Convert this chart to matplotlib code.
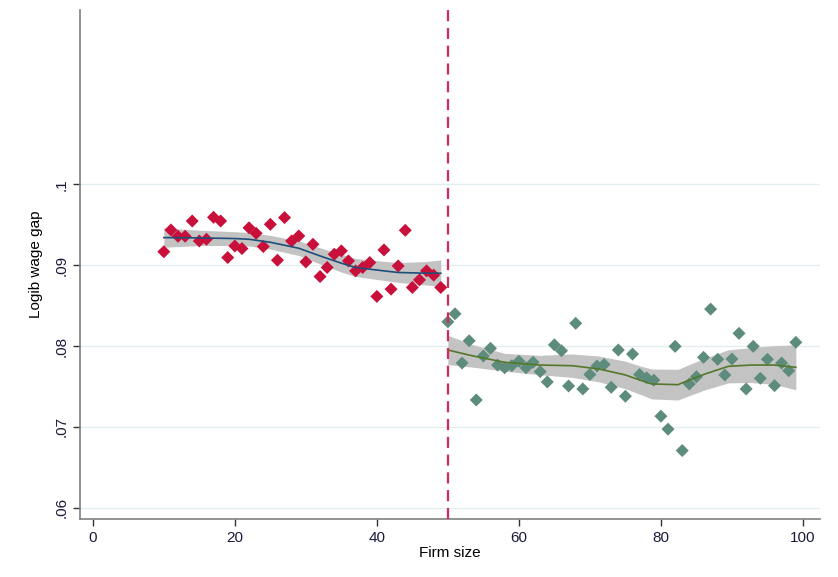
import numpy as np
import matplotlib
matplotlib.use("Agg")
import matplotlib.pyplot as plt

plt.rcParams['font.family'] = ['Liberation Sans', 'DejaVu Sans']

# firm size 10-49 (below threshold)
x_low = list(range(10, 50))
y_low = [0.09167, 0.09436, 0.09358, 0.09358, 0.09547, 0.09300, 0.09321, 0.09593,
         0.09547, 0.09095, 0.09238, 0.09206, 0.09463, 0.09395, 0.09231, 0.09506,
         0.09062, 0.09589, 0.09300, 0.09362, 0.09041, 0.09259, 0.08860, 0.08972,
         0.09136, 0.09177, 0.09053, 0.08930, 0.08972, 0.09033, 0.08614, 0.09189,
         0.08704, 0.08991, 0.09432, 0.08725, 0.08819, 0.08930, 0.08877, 0.08725]

# firm size 50-99 (above threshold)
x_high = list(range(50, 100))
y_high = [0.08300, 0.08399, 0.07790, 0.08065, 0.07333, 0.07877, 0.07972, 0.07765,
          0.07731, 0.07757, 0.07812, 0.07731, 0.07799, 0.07683, 0.07556, 0.08015,
          0.07942, 0.07506, 0.08281, 0.07469, 0.07648, 0.07753, 0.07772, 0.07490,
          0.07951, 0.07379, 0.07901, 0.07648, 0.07607, 0.07578, 0.07132, 0.06972,
          0.07996, 0.06707, 0.07531, 0.07620, 0.07860, 0.08457, 0.07836, 0.07642,
          0.07840, 0.08157, 0.07469, 0.07996, 0.07601, 0.07836, 0.07510, 0.07790,
          0.07695, 0.08046]

# smoothed fits and confidence half-widths
fit_low_x = [10, 15, 20, 22, 25, 29, 32, 35, 37, 41, 43, 47, 49]
fit_low_y = [0.09342, 0.09338, 0.09330, 0.09321, 0.09284, 0.09210, 0.09115,
             0.09025, 0.08972, 0.08930, 0.08910, 0.08901, 0.08901]
fit_low_ci = [0.00120, 0.00095, 0.00085, 0.00083, 0.00085, 0.00090, 0.00100,
              0.00109, 0.00112, 0.00118, 0.00123, 0.00145, 0.00165]

fit_high_x = [50, 53.4, 58, 63, 67.5, 71.3, 75, 77, 78.7, 82.4, 83.8, 86.2,
              89.5, 92.7, 96, 99]
fit_high_y = [0.07951, 0.07880, 0.07799, 0.07765, 0.07757, 0.07716, 0.07642,
              0.07580, 0.07531, 0.07522, 0.07572, 0.07654, 0.07749, 0.07765,
              0.07765, 0.07737]
fit_high_ci = [0.00181, 0.00140, 0.00110, 0.00120, 0.00145, 0.00160, 0.00170,
               0.00175, 0.00185, 0.00190, 0.00192, 0.00196, 0.00205, 0.00216,
               0.00240, 0.00278]

threshold = 50
xticks = [0, 20, 40, 60, 80, 100]
yticks = [0.06, 0.07, 0.08, 0.09, 0.10]
ytick_labels = [".06", ".07", ".08", ".09", ".1"]

fig = plt.figure(figsize=(8.38, 5.77), dpi=100)
ax = fig.add_axes([0.0955, 0.1005, 0.883, 0.8825])

lo_y = np.array(fit_low_y)
lo_ci = np.array(fit_low_ci)
hi_y = np.array(fit_high_y)
hi_ci = np.array(fit_high_ci)

ax.fill_between(fit_low_x, lo_y - lo_ci, lo_y + lo_ci, color="#c3c3c3", lw=0, zorder=2)
ax.fill_between(fit_high_x, hi_y - hi_ci, hi_y + hi_ci, color="#c3c3c3", lw=0, zorder=2)

ax.scatter(x_low, y_low, marker="D", s=44, color="#c8103a", edgecolors="none", zorder=3)
ax.scatter(x_high, y_high, marker="D", s=44, color="#5e8c7c", edgecolors="none", zorder=3)

ax.plot(fit_low_x, fit_low_y, color="#1f4e79", lw=1.2, zorder=4)
ax.plot(fit_high_x, fit_high_y, color="#55772a", lw=1.2, zorder=4)

ax.axvline(threshold, color="#d42a55", lw=1.6, ls=(0, (5, 3)), zorder=5)

ax.set_xlim(-1.8, 102.4)
ax.set_ylim(0.0586, 0.1216)
ax.set_xticks(xticks)
ax.set_yticks(yticks)
ax.set_yticklabels(ytick_labels, rotation=90, va="center")
ax.tick_params(axis="both", labelsize=11, length=5, width=1, color="#333333",
               labelcolor="#1a1a3a")
ax.grid(axis="y", color="#e3eef0", lw=1, zorder=0)
ax.set_axisbelow(True)

for s in ["top", "right"]:
    ax.spines[s].set_visible(False)
for s in ["left", "bottom"]:
    ax.spines[s].set_color("#7f7f7f")
    ax.spines[s].set_linewidth(1.2)

ax.set_xlabel("Firm size", fontsize=11, labelpad=1)
ax.set_ylabel("Logib wage gap", fontsize=11, labelpad=8)

fig.savefig("out.png", dpi=100)
